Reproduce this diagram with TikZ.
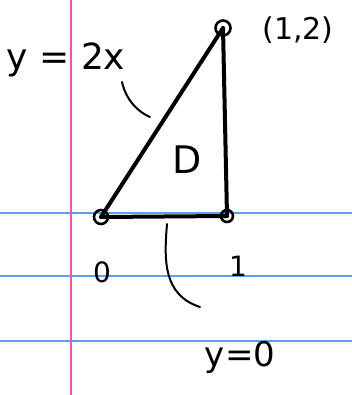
\documentclass[tikz,border=0pt]{standalone}
\usepackage{fontspec}
\setmainfont{DejaVu Sans}
\usetikzlibrary{positioning,arrows.meta,calc}
\definecolor{ruleblue}{RGB}{90,160,240}
\definecolor{marginpink}{RGB}{250,80,170}

\begin{document}
\begin{tikzpicture}[
  x=1pt, y=-1pt,
  vtx/.style={draw=black, circle, line width=2.6pt, inner sep=0pt, minimum size=14pt},
  side/.style={line width=4pt, line cap=round},
  ink/.style={line width=2pt, line cap=round},
  hand/.style={inner sep=0pt, text=black}
]
  \useasboundingbox (0,0) rectangle (352,395);
  % lined paper
  \foreach \yy in {213,276,341}
    \draw[ruleblue, line width=1.2pt] (0,\yy) -- (352,\yy);
  \draw[marginpink, line width=2pt] (71,0) -- (71,395);

  % region D
  \node[vtx] (o) at (101,217) {};
  \node[vtx, minimum size=12pt] (r) at (227,216) {};
  \node[vtx, minimum size=15pt] (t) at (223,28) {};
  \foreach \a/\b in {o/r,r/t,t/o}
    \draw[side] (\a.center) -- (\b.center);

  \node[hand, font=\fontsize{36}{36}\selectfont] (eq) at (66,60) {y = 2x};
  \node[hand, font=\fontsize{30}{30}\selectfont] (pt) at (298,30) {(1,2)};
  \node[hand, font=\fontsize{38}{38}\selectfont] (dlab) at (187,160) {D};
  \node[hand, font=\fontsize{28}{28}\selectfont] (zero) at (102,272) {0};
  \node[hand, font=\fontsize{28}{28}\selectfont] (one) at (238,266) {1};
  \node[hand, font=\fontsize{34}{34}\selectfont] (yz) at (240,357) {y=0};

  % brackets pointing at the sides
  \draw[ink] (122,82) .. controls (126,100) and (138,112) .. (150,117);
  \draw[ink] (167,224) .. controls (164,260) and (163,295) .. (200,307);
\end{tikzpicture}
\end{document}
